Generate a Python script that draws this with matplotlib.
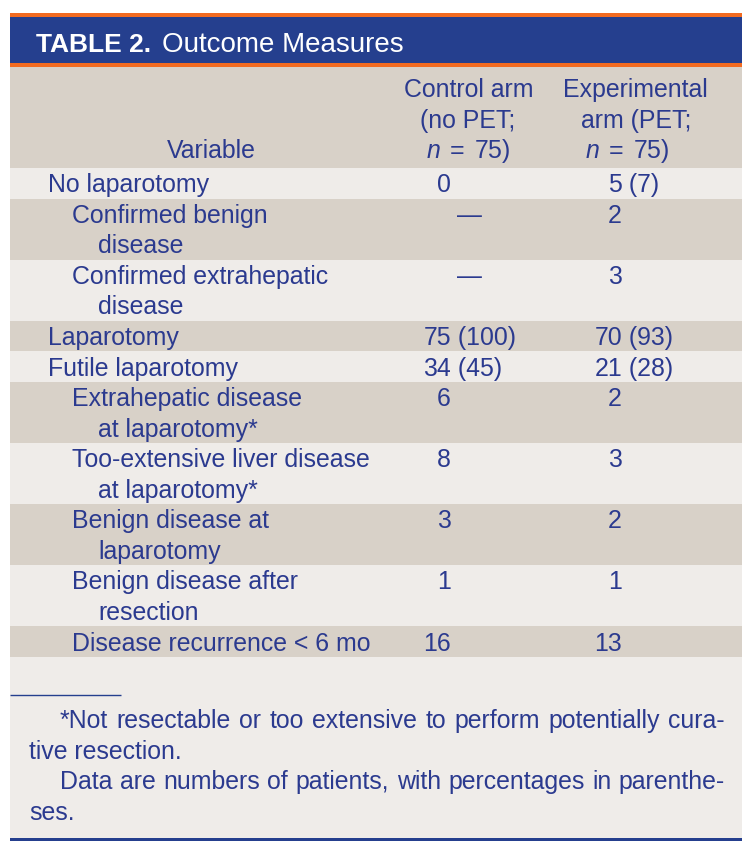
import matplotlib
matplotlib.use("Agg")
import matplotlib.pyplot as plt
from matplotlib.patches import Rectangle

# ---------------- data ----------------
title_bold = "TABLE 2."
title_rest = "Outcome Measures"
header_variable = "Variable"
header_control = ["Control arm", "(no PET;", r"$n\;=\;$75)"]
header_experimental = ["Experimental", "arm (PET;", r"$n\;=\;$75)"]

variables = [
    ["No laparotomy"],
    ["Confirmed benign", "disease"],
    ["Confirmed extrahepatic", "disease"],
    ["Laparotomy"],
    ["Futile laparotomy"],
    ["Extrahepatic disease", "at laparotomy*"],
    ["Too-extensive liver disease", "at laparotomy*"],
    ["Benign disease at", "laparotomy"],
    ["Benign disease after", "resection"],
    ["Disease recurrence < 6 mo"],
]
levels = [0, 1, 1, 0, 0, 1, 1, 1, 1, 1]
control_n = [0, None, None, 75, 34, 6, 8, 3, 1, 16]
control_pct = [None, None, None, 100, 45, None, None, None, None, None]
experimental_n = [5, 2, 3, 70, 21, 2, 3, 2, 1, 13]
experimental_pct = [7, None, None, 93, 28, None, None, None, None, None]

footnotes = [
    ("*Not resectable or too extensive to perform potentially cura-", True),
    ("tive resection.", False),
    ("Data are numbers of patients, with percentages in parenthe-", True),
    ("ses.", False),
]

# ---------------- style ----------------
W, H = 751, 859
ORANGE = "#F26B21"
BLUE = "#253F8E"
GRAY = "#D8D1C8"
LIGHT = "#EFECE9"
TXT = "#2B3A8F"
FONT = "Liberation Sans"
FS = 17.9
TFS_B = 19.0
TFS_R = 20.0

plt.rcParams["font.family"] = [FONT, "DejaVu Sans"]
plt.rcParams["mathtext.fontset"] = "custom"
plt.rcParams["mathtext.it"] = "Liberation Sans:italic"
plt.rcParams["mathtext.rm"] = "Liberation Sans"

fig = plt.figure(figsize=(W / 100, H / 100), dpi=100)
fig.patch.set_facecolor("white")
ax = fig.add_axes([0, 0, 1, 1])
ax.set_xlim(0, W)
ax.set_ylim(H, 0)
ax.axis("off")

L, R = 10, 742


def band(y0, y1, color):
    ax.add_patch(Rectangle((L, y0), R - L, y1 - y0, facecolor=color,
                           edgecolor="none", zorder=1))


# title band
band(13.3, 16.7, ORANGE)
band(16.7, 62.7, BLUE)
band(62.7, 66.7, ORANGE)

renderer = fig.canvas.get_renderer()
ax.text(36, 51.7, title_bold, color="white", fontsize=TFS_B,
        fontweight="bold", va="baseline", ha="left", zorder=3)
ax.text(162, 51.7, title_rest, color="white", fontsize=TFS_R,
        va="baseline", ha="left", zorder=3)

# header
HEAD_TOP, HEAD_BOT = 66.7, 168
band(HEAD_TOP, HEAD_BOT, GRAY)
head_base = [97, 127.7, 158.3]
ax.text(211, head_base[2], header_variable, color=TXT, fontsize=FS,
        ha="center", va="baseline", zorder=3)
ctrl_head_x = [469, 468, 468]
exp_head_x = [635, 636, 627]
for i, s in enumerate(header_control):
    ax.text(ctrl_head_x[i], head_base[i], s, color=TXT, fontsize=FS,
            ha="center", va="baseline", zorder=3)
for i, s in enumerate(header_experimental):
    ax.text(exp_head_x[i], head_base[i], s, color=TXT, fontsize=FS,
            ha="center", va="baseline", zorder=3)

# body rows
LINE = 30.56
BASE_OFF = 24.2
x_level = [48, 72]
CONT_INDENT = 26
ctrl_anchor, exp_anchor, dash_x = 451, 622, 469


def draw_value(anchor, y, n, pct, dash_center=None):
    if n is None:
        ax.text(dash_center, y, "\u2014", color=TXT, fontsize=FS,
                ha="center", va="baseline", zorder=3)
        return
    ax.text(anchor, y, f"{n}", color=TXT, fontsize=FS,
            ha="right", va="baseline", zorder=3)
    if pct is not None:
        ax.text(anchor, y, f" ({pct})", color=TXT, fontsize=FS,
                ha="left", va="baseline", zorder=3)


y = HEAD_BOT
for i, lines in enumerate(variables):
    h = LINE * len(lines)
    band(y, y + h, LIGHT if i % 2 == 0 else GRAY)
    for j, s in enumerate(lines):
        x = x_level[levels[i]] + (CONT_INDENT if j > 0 else 0)
        ax.text(x, y + BASE_OFF + j * LINE, s, color=TXT, fontsize=FS,
                ha="left", va="baseline", zorder=3)
    yb = y + BASE_OFF
    draw_value(ctrl_anchor, yb, control_n[i], control_pct[i], dash_x)
    draw_value(exp_anchor, yb, experimental_n[i], experimental_pct[i], dash_x)
    y += h

# footnote area
band(y, 838, LIGHT)
ax.plot([L, 121], [695, 695], color=BLUE, lw=1.0, zorder=3,
        solid_capstyle="butt")
band(838, 840.5, BLUE)

FN_BASE0, FN_STEP = 728, 30.7
first_x, cont_x, right_x = 60, 29.3, 725
for k, (s, justify) in enumerate(footnotes):
    yb = FN_BASE0 + k * FN_STEP
    x0 = first_x if k % 2 == 0 else cont_x
    if not justify:
        ax.text(x0, yb, s, color=TXT, fontsize=FS, ha="left",
                va="baseline", zorder=3)
        continue
    words = s.split(" ")
    arts = [ax.text(0, yb, w, color=TXT, fontsize=FS, ha="left",
                    va="baseline", zorder=3) for w in words]
    widths = [a.get_window_extent(renderer).width for a in arts]
    gap = (right_x - x0 - sum(widths)) / (len(words) - 1)
    x = x0
    for a, w in zip(arts, widths):
        a.set_x(x)
        x += w + gap

fig.savefig("out.png", dpi=100, facecolor="white")
